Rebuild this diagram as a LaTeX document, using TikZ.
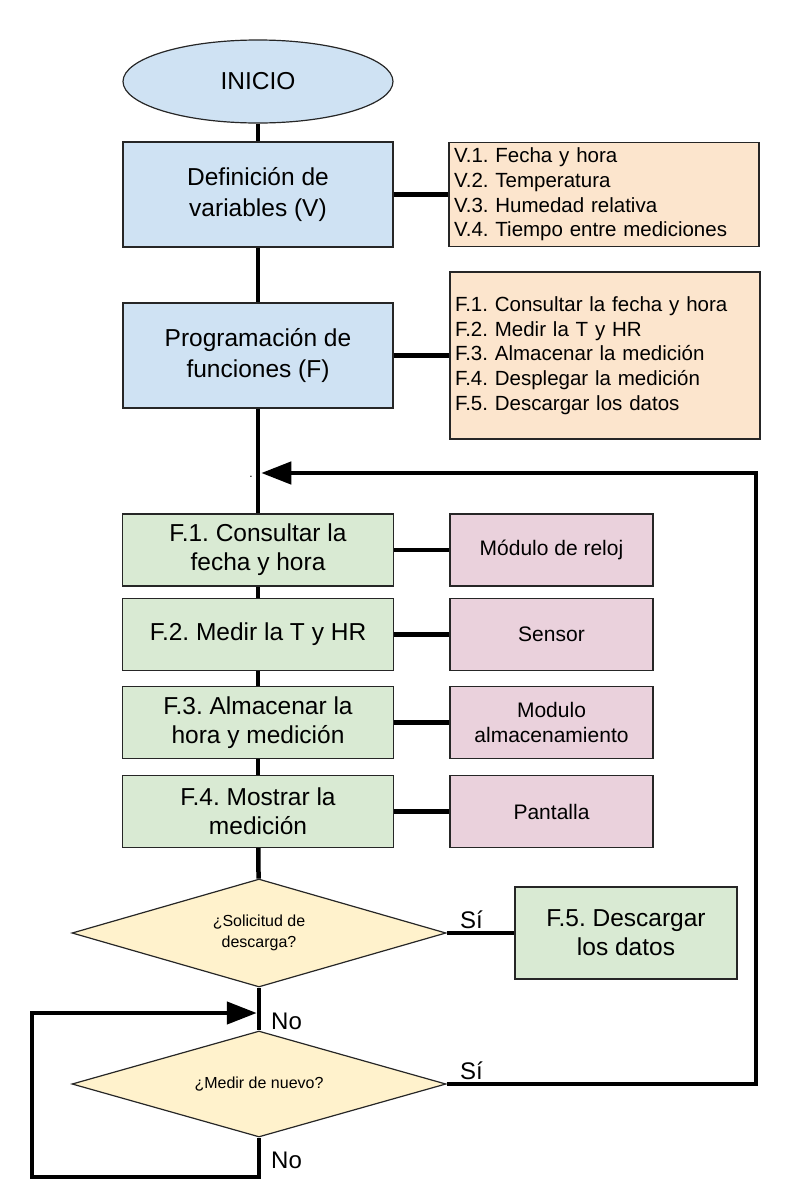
\documentclass[tikz,border=0pt]{standalone}
\usepackage{fontspec}
\setmainfont{Liberation Sans}
\usepackage{xcolor}
\usepackage{tikz}
\usetikzlibrary{shapes,arrows.meta}
\usetikzlibrary{positioning}
\frenchspacing
\definecolor{azul}{HTML}{CFE2F3}
\definecolor{naranja}{HTML}{FCE5CD}
\definecolor{verde}{HTML}{D9EAD3}
\definecolor{rosa}{HTML}{EAD1DC}
\definecolor{amarillo}{HTML}{FFF2CC}
\tikzstyle{startnode} = [ellipse, draw=black!85, line width=1.2pt, fill=azul,
    minimum width=270pt, minimum height=83pt, font=\fontsize{24.5}{30}\selectfont]
\tikzstyle{block} = [rectangle, draw=black!85, line width=1.2pt, fill=azul,
    minimum width=270pt, minimum height=105pt, align=center,
    font=\fontsize{24.5}{31}\selectfont]
\tikzstyle{listbox} = [rectangle, draw=black!85, line width=1.2pt, fill=naranja,
    text width=300pt, inner xsep=5pt, align=left,
    font=\fontsize{20.5}{24.7}\selectfont]
\tikzstyle{funcblock} = [rectangle, draw=black!85, line width=1.2pt, fill=verde,
    minimum width=271pt, minimum height=72pt, align=center,
    font=\fontsize{24.5}{29}\selectfont]
\tikzstyle{hwblock} = [rectangle, draw=black!85, line width=1.2pt, fill=rosa,
    minimum width=203pt, minimum height=72pt, align=center,
    font=\fontsize{21}{24.5}\selectfont]
\tikzstyle{decision} = [diamond, aspect=3.5, draw=black!85, line width=1.2pt, fill=amarillo,
    minimum width=374pt, minimum height=107pt, inner sep=0pt, align=center,
    font=\fontsize{16}{21}\selectfont]
\tikzstyle{answer} = [anchor=base west, inner sep=0pt, font=\fontsize{24}{24}\selectfont]
\tikzstyle{link} = [draw, line width=4.5pt]
\tikzstyle{line} = [draw, line width=4.5pt, -{Triangle[length=30pt,width=22pt]}]

\begin{document}
\begin{tikzpicture}[x=1pt, y=-1pt]
  \useasboundingbox (0,0) rectangle (799,1200);
  % Place nodes
  \node [startnode] (inicio) at (258,81.5) {INICIO};
  \node [block] (vbox) at (258,194.5) {Definición de\\variables (V)};
  \node [listbox, minimum height=104pt, right of=vbox, node distance=346pt] (vlist)
    {V.1. Fecha y hora\\V.2. Temperatura\\V.3. Humedad relativa\\V.4. Tiempo entre mediciones};
  \node [block] (fbox) at (258,355.5) {Programación de\\funciones (F)};
  \node [listbox, minimum height=167pt, right of=fbox, node distance=347pt] (flist)
    {F.1. Consultar la fecha y hora\\F.2. Medir la T y HR\\F.3. Almacenar la medición\\F.4. Desplegar la medición\\F.5. Descargar los datos};
  \coordinate (jn) at (261.25,473);
  \node [inner sep=0pt, anchor=base, font=\fontsize{12}{12}\selectfont] (punto) at (251,477) {.};
  \node [funcblock] (reloj) at (258,550) {F.1. Consultar la\\fecha y hora};
  \node [hwblock, right of=reloj, node distance=293.5pt] (modreloj) {Módulo de reloj};
  \node [funcblock] (medir) at (258,634.5) {F.2. Medir la T y HR};
  \node [hwblock, right of=medir, node distance=293.5pt] (sensor) {Sensor};
  \node [funcblock] (guardar) at (258,722.5) {F.3. Almacenar la\\hora y medición};
  \node [hwblock, right of=guardar, node distance=293.5pt] (memoria) {Modulo\\almacenamiento};
  \node [funcblock] (mostrar) at (258,811.5) {F.4. Mostrar la\\medición};
  \node [hwblock, right of=mostrar, node distance=293.5pt] (pantalla) {Pantalla};
  \node [decision, minimum height=108pt] (descarga) at (259,933) {¿Solicitud de\\descarga?};
  \node [funcblock, minimum width=222pt, minimum height=92pt, right of=descarga, node distance=367pt] (bajar)
    {F.5. Descargar\\los datos};
  \node [decision, minimum height=106pt] (nuevo) at (259,1084) {¿Medir de nuevo?};
  \coordinate (jn2) at (256.75,1013);
  \coordinate (rp) at (756,473);
  \coordinate (lp) at (32,1177);
  \node [answer] (si1) at (460,928) {Sí};
  \node [answer] (si2) at (460,1079) {Sí};
  \node [answer] (no1) at (271,1029) {No};
  \node [answer] (no2) at (271,1168) {No};
  % Draw edges
  \path [link] (inicio) -- (vbox);
  \path [link] (vbox) -- (fbox);
  \path [link] (fbox) -- (reloj);
  \path [link] (reloj) -- (medir);
  \path [link] (medir) -- (guardar);
  \path [link] (guardar) -- (mostrar);
  \path [link] (mostrar) -- (descarga);
  \path [link] (descarga) -- (nuevo);
  \path [link] (vbox) -- (vlist);
  \path [link] (fbox) -- (flist);
  \path [link] (reloj) -- (modreloj);
  \path [link] (medir) -- (sensor);
  \path [link] (guardar) -- (memoria);
  \path [link] (mostrar) -- (pantalla);
  \path [link] (descarga) -- (bajar);
  \path [line] (nuevo.east) -| (rp) -- (jn);
  \path [line] (nuevo.south) |- (lp) |- (jn2);
\end{tikzpicture}
\end{document}
